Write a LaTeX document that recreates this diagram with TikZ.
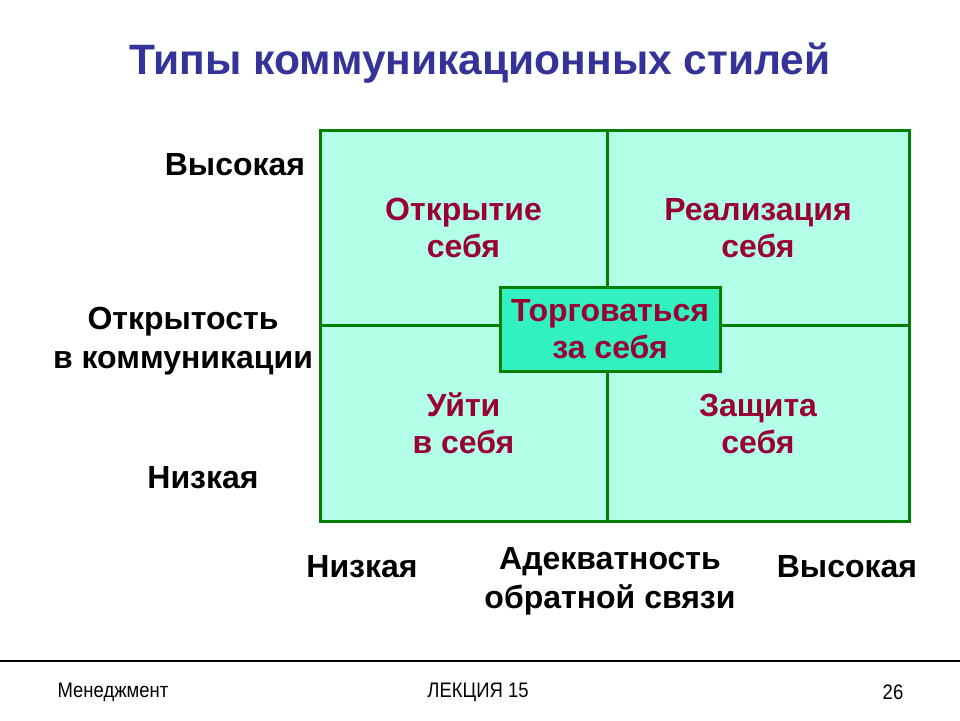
\documentclass[tikz,border=0pt]{standalone}
\usepackage{fontspec}
\setmainfont{Liberation Sans}
\usetikzlibrary{shapes}
\definecolor{titleblue}{RGB}{51,51,153}
\definecolor{stylered}{RGB}{153,0,51}
\definecolor{gridgreen}{RGB}{0,128,0}
\definecolor{quadfill}{RGB}{180,255,232}
\definecolor{dealfill}{RGB}{51,240,192}
\tikzstyle{quad}=[rectangle,draw=gridgreen,line width=3pt,fill=quadfill,minimum height=196pt,inner sep=0pt,align=center,text=stylered,font=\bfseries\fontsize{32}{37}\selectfont]
\tikzstyle{axis}=[align=center,inner sep=0pt,font=\bfseries\fontsize{32}{39}\selectfont]
\tikzstyle{foot}=[inner sep=0pt,font=\addfontfeature{FakeStretch=0.88}\fontsize{21}{24}\selectfont]

\begin{document}
\begin{tikzpicture}[x=1pt,y=-1pt]
    \useasboundingbox[fill=white] (0,0) rectangle (960,720);
    % Title
    \node[font=\bfseries\fontsize{42.5}{46}\selectfont,text=titleblue] (title) at (480,63) {Типы коммуникационных стилей};
    % The four quadrants
    \foreach \pos/\name/\qw/\txt in {{(463.5,228)/q_tl/287/{Открытие\\себя}}, {(758,228)/q_tr/302/{Реализация\\себя}}, {(463.5,423.5)/q_bl/287/{Уйти\\в себя}}, {(758,423.5)/q_br/302/{Защита\\себя}}}
        \node[quad,minimum width=\qw pt] (\name) at \pos {\txt};
    % Middle style
    \node[quad,fill=dealfill,minimum width=220pt,minimum height=84pt] (deal) at (610,329) {Торговаться\\за себя};
    % Axis labels
    \foreach \pos/\name/\txt in {{(235,165)/y_high/Высокая}, {(183,341)/y_axis/{Открытость\\в коммуникации}}, {(203,478)/y_low/Низкая}, {(362,567)/x_low/Низкая}, {(610,581)/x_axis/{Адекватность\\обратной связи}}, {(847,567)/x_high/Высокая}}
        \node[axis] (\name) at \pos {\txt};
    % Footer
    \coordinate (foot_l) at (0,661);
    \coordinate (foot_r) at (960,661);
    \draw[line width=2pt] (foot_l) -- (foot_r);
    \node[foot] (course) at (113,692) {Менеджмент};
    \node[foot] (lecture) at (478,692) {ЛЕКЦИЯ 15};
    \node[foot] (page) at (893,692) {26};
\end{tikzpicture}
\end{document}
